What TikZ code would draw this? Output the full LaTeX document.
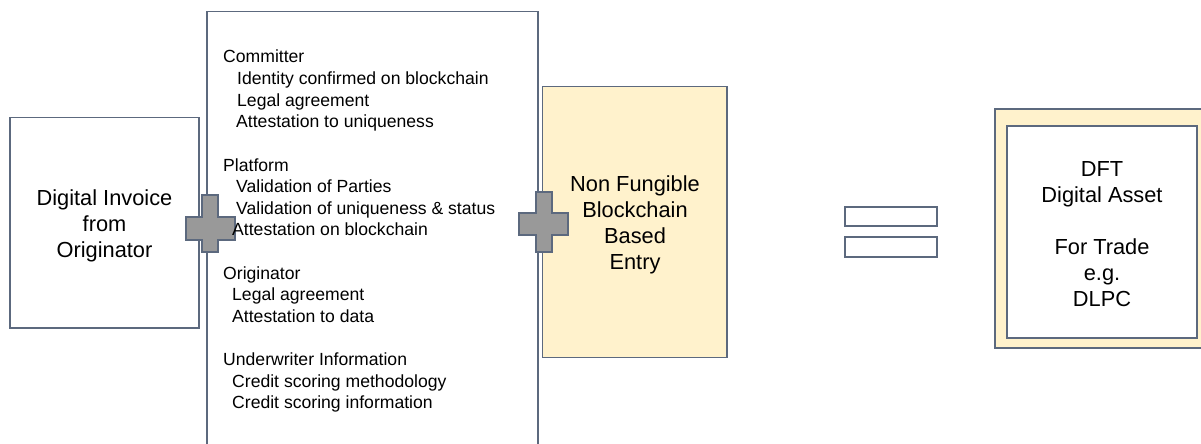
\documentclass[tikz,border=0pt]{standalone}
\usepackage{fontspec}
\setmainfont{Liberation Sans}
\definecolor{bordc}{RGB}{92,105,126}
\definecolor{plusfill}{RGB}{153,153,153}
\definecolor{paleyel}{RGB}{255,242,204}
\tikzset{
  box/.style={draw=bordc, line width=1.2pt, fill=white},
  ybox/.style={draw=bordc, line width=1.2pt, fill=paleyel},
  bigtext/.style={font=\fontsize{21.8}{26}\selectfont, align=center, inner sep=0pt},
  smalltext/.style={font=\fontsize{17.6}{21.6}\selectfont, anchor=base west, inner sep=0pt},
  plusmark/.style={draw=bordc, line width=1.2pt, fill=plusfill, line join=miter},
}
\begin{document}
\begin{tikzpicture}[x=1pt,y=-1pt]
\useasboundingbox (0,0) rectangle (1201,444);
\clip (0,0) rectangle (1201,444);
% boxes
\draw[box] (10,117.5) rectangle (199,328);
\node[bigtext] (invoice) at (104.5,226) {Digital Invoice\\from\\Originator};
\draw[box] (207,11.5) rectangle (538,460);
\coordinate (mid) at (372,230);
\draw[ybox] (542.5,86.5) rectangle (727,357.5);
\node[bigtext] (nfe) at (635,225) {Non Fungible\\Blockchain\\Based\\Entry};
% equals
\draw[box] (845,207) rectangle (937,226);
\draw[box] (845,237) rectangle (937,257);
% result
\draw[ybox] (995,109) rectangle (1206,348);
\draw[box] (1007,126) rectangle (1197,338);
\node[bigtext] (dft) at (1102,234) {DFT\\Digital Asset\\[26pt]For Trade\\e.g.\\DLPC};
% plus signs
\draw[plusmark] (202,195) -- (218,195) -- (218,217) -- (235,217) -- (235,240) -- (218,240) -- (218,252) -- (202,252) -- (202,240) -- (186,240) -- (186,217) -- (202,217) -- cycle;
\draw[plusmark] (536,192) -- (552,192) -- (552,213) -- (568,213) -- (568,235) -- (552,235) -- (552,252) -- (536,252) -- (536,235) -- (519,235) -- (519,213) -- (536,213) -- cycle;
% middle box text
\foreach \n/\x/\y/\t in {
  a/223/63/Committer,
  b/237/84.6/Identity confirmed on blockchain,
  c/237/106.2/Legal agreement,
  d/236/127.8/Attestation to uniqueness,
  e/223/171/Platform,
  f/236/192.6/Validation of Parties,
  g/236/214.2/Validation of uniqueness \& status,
  h/232/235.8/Attestation on blockchain,
  i/223/279/Originator,
  j/232/300.6/Legal agreement,
  k/232/322.2/Attestation to data,
  l/223/365.4/Underwriter Information,
  m/232/387/Credit scoring methodology,
  n/232/408.6/Credit scoring information}
  \node[smalltext] (line\n) at (\x,\y) {\t};
\end{tikzpicture}
\end{document}
